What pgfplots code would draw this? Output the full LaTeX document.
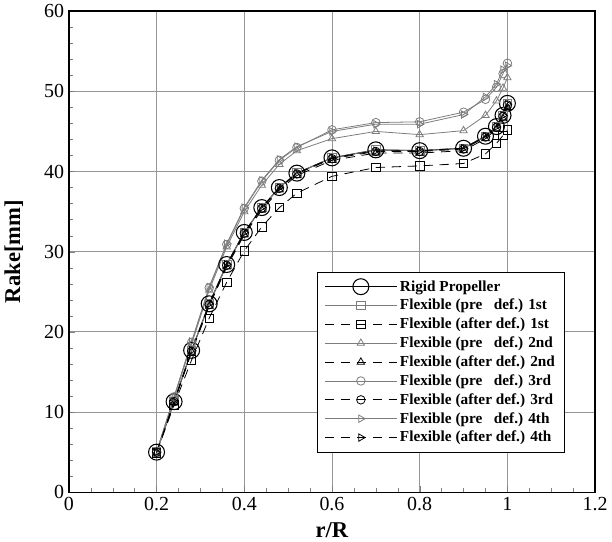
\documentclass[border=0pt]{standalone}
\usepackage{fontspec}
\setmainfont{Liberation Serif}
\usepackage{pgfplots}
\pgfplotsset{compat=1.18}
\definecolor{pregray}{RGB}{125,125,125}
\definecolor{gridgray}{RGB}{150,150,150}

\begin{document}
\begin{tikzpicture}
\begin{axis}[
  width=396pt, height=362pt, scale only axis,
  xmin=0, xmax=1.2, ymin=0, ymax=60,
  xtick={0,0.2,0.4,0.6,0.8,1,1.2}, ytick={0,10,20,30,40,50,60},
  minor x tick num=3, minor y tick num=4,
  tick pos=left, tick align=inside,
  major tick length=5pt, minor tick length=3pt,
  grid=major, grid style={gridgray, line width=0.7pt},
  axis line style={line width=1pt},
  ticklabel style={font=\fontsize{15}{17}\selectfont},
  /pgf/number format/assume math mode=true,
  xlabel={\textbf{r/R}}, ylabel={\textbf{Rake[mm]}},
  label style={font=\fontsize{17}{19}\selectfont},
  xlabel style={yshift=-2pt}, ylabel style={yshift=9pt},
  legend cell align=left,
  legend style={at={(0.942,0.083)}, anchor=south east, draw=black, line width=0.6pt,
    font=\bfseries\fontsize{11.5}{13}\selectfont, row sep=0.6pt, inner xsep=5pt, inner ysep=4pt},
  legend image code/.code={\draw[mark repeat=2,mark phase=2,#1] plot coordinates {(0cm,0cm)(0.95cm,0cm)(1.9cm,0cm)};},
  pre/.style={pregray, line width=0.6pt, mark size=3.2pt, mark options={solid, pregray}},
  aft/.style={black, line width=0.6pt, dash pattern=on 7pt off 5pt, mark size=3.2pt, mark options={solid, black}},
]
% Rigid propeller
\addplot[black, line width=0.8pt, mark=o, mark size=6pt] coordinates {
 (0.2,5.0)(0.24,11.3)(0.28,17.7)(0.32,23.5)(0.36,28.4)(0.4,32.4)(0.44,35.5)(0.48,38.0)(0.52,39.8)
 (0.6,41.7)(0.7,42.7)(0.8,42.6)(0.9,42.9)(0.95,44.4)(0.975,45.6)(0.99,47.0)(1.0,48.5)};
% pre def. 1st (same as rigid)
\addplot[pre, mark=square] coordinates {
 (0.2,5.0)(0.24,11.3)(0.28,17.7)(0.32,23.5)(0.36,28.4)(0.4,32.4)(0.44,35.5)(0.48,38.0)(0.52,39.8)
 (0.6,41.7)(0.7,42.7)(0.8,42.6)(0.9,42.9)(0.95,44.4)(0.975,45.6)(0.99,47.0)(1.0,48.5)};
% after def. 1st
\addplot[aft, mark=square] coordinates {
 (0.2,4.9)(0.24,10.9)(0.28,16.5)(0.32,21.7)(0.36,26.2)(0.4,30.1)(0.44,33.1)(0.48,35.5)(0.52,37.3)
 (0.6,39.4)(0.7,40.5)(0.8,40.7)(0.9,41.0)(0.95,42.2)(0.975,43.5)(0.99,44.5)(1.0,45.2)};
% pre def. 2nd
\addplot[pre, mark=triangle] coordinates {
 (0.2,5.0)(0.24,11.8)(0.28,18.5)(0.32,25.2)(0.36,30.6)(0.4,35.0)(0.44,38.3)(0.48,40.9)(0.52,42.6)
 (0.6,44.1)(0.7,45.0)(0.8,44.6)(0.9,45.1)(0.95,47.0)(0.975,48.8)(0.99,50.4)(1.0,51.7)};
% after def. 2nd
\addplot[aft, mark=triangle] coordinates {
 (0.2,5.0)(0.24,11.2)(0.28,17.5)(0.32,23.2)(0.36,28.1)(0.4,32.1)(0.44,35.2)(0.48,37.7)(0.52,39.5)
 (0.6,41.4)(0.7,42.3)(0.8,42.3)(0.9,42.6)(0.95,44.1)(0.975,45.3)(0.99,46.6)(1.0,48.0)};
% pre def. 3rd
\addplot[pre, mark=o] coordinates {
 (0.2,5.0)(0.24,11.9)(0.28,18.7)(0.32,25.5)(0.36,30.9)(0.4,35.4)(0.44,38.8)(0.48,41.4)(0.52,43.0)
 (0.6,45.2)(0.7,46.1)(0.8,46.2)(0.9,47.4)(0.95,49.0)(0.975,50.5)(0.99,52.2)(1.0,53.5)};
% after def. 3rd
\addplot[aft, mark=o] coordinates {
 (0.2,5.0)(0.24,11.3)(0.28,17.6)(0.32,23.4)(0.36,28.3)(0.4,32.3)(0.44,35.4)(0.48,37.9)(0.52,39.7)
 (0.6,41.6)(0.7,42.5)(0.8,42.5)(0.9,42.8)(0.95,44.3)(0.975,45.5)(0.99,46.9)(1.0,48.3)};
% pre def. 4th
\addplot[pre, mark=triangle, every mark/.append style={rotate=-90}] coordinates {
 (0.2,5.0)(0.24,11.9)(0.28,18.8)(0.32,25.6)(0.36,31.0)(0.4,35.5)(0.44,38.9)(0.48,41.5)(0.52,43.1)
 (0.6,45.0)(0.7,45.9)(0.8,45.9)(0.9,47.1)(0.95,49.3)(0.975,50.9)(0.99,52.7)(1.0,53.2)};
% after def. 4th
\addplot[aft, mark=triangle, every mark/.append style={rotate=-90}] coordinates {
 (0.2,5.0)(0.24,11.3)(0.28,17.7)(0.32,23.5)(0.36,28.4)(0.4,32.4)(0.44,35.5)(0.48,38.0)(0.52,39.8)
 (0.6,41.7)(0.7,42.6)(0.8,42.6)(0.9,42.9)(0.95,44.4)(0.975,45.6)(0.99,47.0)(1.0,48.4)};
\legend{Rigid Propeller, Flexible (pre\ \ \ def.) 1st, Flexible (after def.) 1st,
 Flexible (pre\ \ \ def.) 2nd, Flexible (after def.) 2nd,
 Flexible (pre\ \ \ def.) 3rd, Flexible (after def.) 3rd,
 Flexible (pre\ \ \ def.) 4th, Flexible (after def.) 4th}
\end{axis}
\end{tikzpicture}
\end{document}
